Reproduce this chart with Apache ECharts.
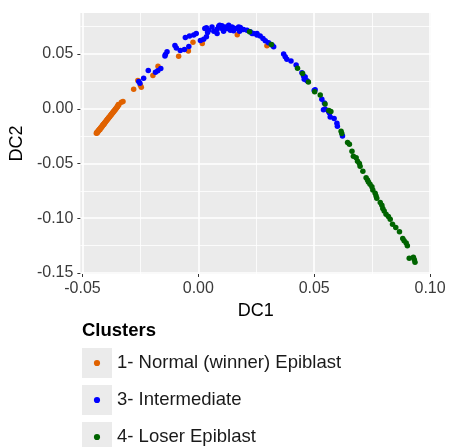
<!DOCTYPE html>
<html><head><meta charset="utf-8">
<script src="https://cdn.jsdelivr.net/npm/echarts@6/dist/echarts.min.js"></script>
<style>html,body{margin:0;padding:0;background:#fff}#c{width:450px;height:447px}</style>
</head><body><div id="c"></div>
<script>
const clusterNames = ['1- Normal (winner) Epiblast', '3- Intermediate', '4- Loser Epiblast'];
const clusterColors = ['#E06200', '#0000FF', '#006400'];
const xTicks = [-0.05, 0, 0.05, 0.10];
const yTicks = [-0.15, -0.10, -0.05, 0, 0.05];
const xMinor = [-0.025, 0.025, 0.075];
const yMinor = [-0.125, -0.075, -0.025, 0.025, 0.075];

const normalX = [-0.0440,-0.0438,-0.0436,-0.0433,-0.0431,-0.0429,-0.0427,-0.0424,-0.0422,-0.0420,-0.0418,-0.0415,-0.0413,-0.0411,-0.0409,-0.0406,-0.0404,-0.0402,-0.0400,-0.0397,-0.0395,-0.0393,-0.0391,-0.0388,-0.0386,-0.0384,-0.0382,-0.0379,-0.0377,-0.0375,-0.0373,-0.0370,-0.0368,-0.0366,-0.0364,-0.0361,-0.0359,-0.0357,-0.0355,-0.0352,-0.0350,-0.0348,-0.0346,-0.0345,-0.0343,-0.0437,-0.0434,-0.0425,-0.0417,-0.0408,
 -0.0332,-0.0325,-0.0279,-0.0261,-0.0250,-0.0246,-0.0196,-0.0174,-0.0085,-0.0043,-0.0023,0.0017,0.0168,0.0296];
const normalY = [-0.0223,-0.0216,-0.0212,-0.0205,-0.0201,-0.0194,-0.0190,-0.0182,-0.0178,-0.0171,-0.0167,-0.0158,-0.0154,-0.0147,-0.0142,-0.0134,-0.0130,-0.0123,-0.0118,-0.0110,-0.0106,-0.0099,-0.0094,-0.0086,-0.0081,-0.0075,-0.0070,-0.0062,-0.0057,-0.0050,-0.0046,-0.0038,-0.0033,-0.0026,-0.0022,-0.0013,-0.0009,-0.0002,0.0003,0.0011,0.0015,0.0022,0.0030,0.0040,0.0036,-0.0222,-0.0213,-0.0192,-0.0168,-0.0144,
 0.0059,0.0066,0.0179,0.0259,0.0214,0.0197,0.0303,0.0388,0.0480,0.0527,0.0607,0.0597,0.0676,0.0576];

const interX = [-0.0257,-0.0252,-0.0236,-0.0216,-0.0185,-0.0175,-0.0162,-0.0144,-0.0142,-0.0135,-0.0101,-0.0095,-0.0078,-0.0060,-0.0056,-0.0038,-0.0041,-0.0020,-0.0009,0.0009,0.0023,0.0035,0.0028,0.0035,0.0040,0.0044,0.0059,0.0067,0.0081,0.0081,0.0088,0.0092,0.0102,0.0102,0.0109,0.0116,0.0124,0.0131,0.0138,0.0145,0.0152,0.0152,0.0167,0.0174,0.0178,0.0181,0.0188,0.0195,0.0210,0.0224,0.0232,0.0238,0.0253,0.0253,0.0267,0.0279,0.0289,0.0303,0.0318,0.0325,0.0368,0.0375,0.0382,0.0400,0.0422,0.0447,0.0454,0.0457,0.0461,0.0469,0.0500,0.0504,0.0533,0.0544,0.0540,0.0547,0.0562,0.0566,0.0569,0.0586,0.0598,0.0600,0.0622];
const interY = [0.0248,0.0232,0.0279,0.0350,0.0334,0.0348,0.0368,0.0482,0.0496,0.0521,0.0577,0.0555,0.0532,0.0541,0.0650,0.0664,0.0568,0.0673,0.0688,0.0623,0.0636,0.0659,0.0734,0.0740,0.0697,0.0718,0.0748,0.0709,0.0688,0.0727,0.0755,0.0764,0.0759,0.0734,0.0709,0.0748,0.0734,0.0764,0.0718,0.0748,0.0712,0.0739,0.0734,0.0748,0.0709,0.0743,0.0725,0.0725,0.0718,0.0703,0.0688,0.0688,0.0673,0.0688,0.0664,0.0643,0.0621,0.0603,0.0582,0.0566,0.0500,0.0476,0.0452,0.0436,0.0400,0.0330,0.0300,0.0270,0.0291,0.0257,0.0166,0.0173,0.0086,0.0052,-0.0009,-0.0003,-0.0025,-0.0039,-0.0076,-0.0089,-0.0132,-0.0161,-0.0248];

const loserX = [0.0221,0.0315,0.0428,0.0450,0.0475,0.0502,0.0526,0.0547,0.0563,0.0572,0.0616,0.0619,0.0644,0.0652,0.0663,0.0669,0.0681,0.0687,0.0695,0.0698,0.0710,0.0724,0.0730,0.0734,0.0741,0.0749,0.0753,0.0763,0.0767,0.0770,0.0785,0.0792,0.0796,0.0802,0.0810,0.0820,0.0828,0.0838,0.0852,0.0868,0.0882,0.0888,0.0897,0.0902,0.0910,0.0928,0.0932,0.0935];
const loserY = [0.0703,0.0588,0.0370,0.0323,0.0244,0.0156,0.0125,0.0044,-0.0016,-0.0025,-0.0206,-0.0227,-0.0309,-0.0325,-0.0388,-0.0434,-0.0448,-0.0479,-0.0500,-0.0525,-0.0570,-0.0630,-0.0652,-0.0670,-0.0691,-0.0712,-0.0743,-0.0773,-0.0797,-0.0818,-0.0857,-0.0882,-0.0912,-0.0934,-0.0964,-0.0985,-0.1009,-0.1055,-0.1085,-0.1125,-0.1185,-0.1206,-0.1227,-0.1252,-0.1366,-0.1357,-0.1379,-0.1403];

const pairs = (xs, ys) => xs.map((x, i) => [x, ys[i]]);
const seriesX = [normalX, interX, loserX];
const seriesY = [normalY, interY, loserY];

const FONT = '"Liberation Sans", Arial, sans-serif';
const XMIN = -0.0509, XMAX = 0.1004, YMIN = -0.151, YMAX = 0.0875;
const fmt = v => v.toFixed(2);

const chart = echarts.init(document.getElementById('c'), null, {renderer: 'canvas'});
const dotPath = 'path://M0,0M30,30M15,11.9A3.1,3.1,0,1,1,15,18.1A3.1,3.1,0,1,1,15,11.9Z';

const legendBase = {data: clusterNames, orient: 'vertical', left: 82, top: 348, height: 140, padding: 0,
  itemWidth: 30, itemHeight: 30, itemGap: 7, selectedMode: false};

chart.setOption({
  animation: false,
  backgroundColor: '#FFFFFF',
  textStyle: {fontFamily: FONT},
  grid: {left: 80, right: 19, top: 13, bottom: 173, show: true, backgroundColor: '#EBEBEB', borderWidth: 0, containLabel: false},
  title: {text: 'Clusters', left: 82, top: 321, padding: 0,
    textStyle: {fontFamily: FONT, fontSize: 18.5, fontWeight: 'bold', color: '#000'}},
  legend: [
    Object.assign({}, legendBase, {icon: 'rect', itemStyle: {color: '#EBEBEB'}, formatter: () => '', z: 1,
      textStyle: {fontSize: 18.5}}),
    Object.assign({}, legendBase, {icon: dotPath, z: 2,
      textStyle: {fontFamily: FONT, fontSize: 18.5, color: '#1A1A1A'}})
  ],
  xAxis: [
    {type: 'value', min: XMIN, max: XMAX, position: 'bottom',
     name: 'DC1', nameLocation: 'middle', nameGap: 20,
     nameTextStyle: {fontFamily: FONT, fontSize: 18, color: '#000'},
     axisLine: {show: false, onZero: false},
     axisTick: {show: true, length: 3, customValues: xTicks, lineStyle: {color: '#333', width: 1}},
     axisLabel: {customValues: xTicks, formatter: fmt, margin: 7, fontFamily: FONT, fontSize: 16, color: '#3A3A3A'},
     splitLine: {show: true, lineStyle: {color: '#FFFFFF', width: 1.6}}},
    {type: 'value', min: XMIN, max: XMAX, position: 'bottom',
     axisLine: {show: false, onZero: false},
     axisTick: {show: false, customValues: xMinor},
     axisLabel: {show: false, customValues: xMinor},
     splitLine: {show: true, lineStyle: {color: '#FFFFFF', width: 0.8}}}
  ],
  yAxis: [
    {type: 'value', min: YMIN, max: YMAX, position: 'left',
     name: 'DC2', nameLocation: 'middle', nameGap: 52, nameRotate: 90,
     nameTextStyle: {fontFamily: FONT, fontSize: 18, color: '#000'},
     axisLine: {show: false, onZero: false},
     axisTick: {show: true, length: 3, customValues: yTicks, lineStyle: {color: '#333', width: 1}},
     axisLabel: {customValues: yTicks, formatter: fmt, margin: 7, fontFamily: FONT, fontSize: 16, color: '#3A3A3A'},
     splitLine: {show: true, lineStyle: {color: '#FFFFFF', width: 1.6}}},
    {type: 'value', min: YMIN, max: YMAX, position: 'left',
     axisLine: {show: false, onZero: false},
     axisTick: {show: false, customValues: yMinor},
     axisLabel: {show: false, customValues: yMinor},
     splitLine: {show: true, lineStyle: {color: '#FFFFFF', width: 0.8}}}
  ],
  series: clusterNames.map((name, i) => ({
    name: name, type: 'scatter', xAxisIndex: 0, yAxisIndex: 0,
    symbol: 'circle', symbolSize: 5.5,
    itemStyle: {color: clusterColors[i], opacity: 1},
    emphasis: {disabled: true},
    data: pairs(seriesX[i], seriesY[i])
  }))
});
</script></body></html>
